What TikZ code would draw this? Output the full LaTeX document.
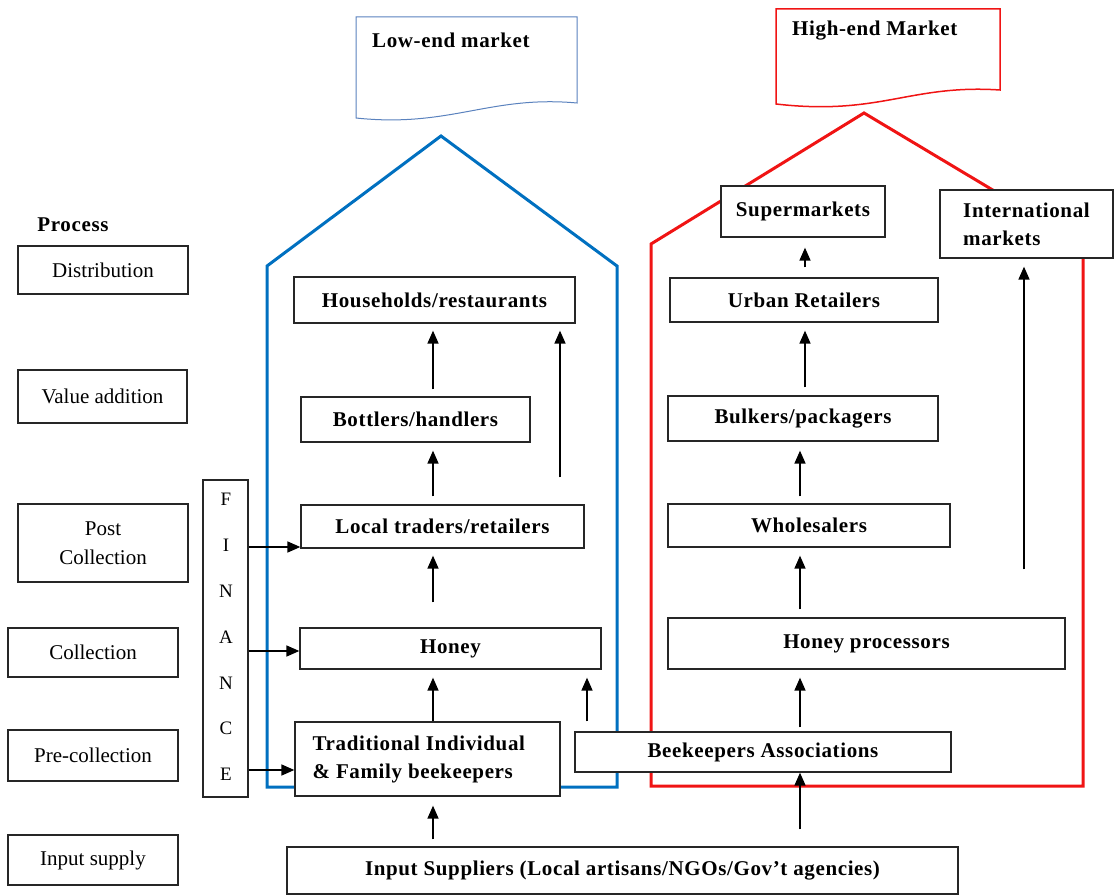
\documentclass[tikz,border=0pt]{standalone}
\usepackage{fontspec}
\setmainfont{Liberation Serif}
\newfontfamily\lsfont[LetterSpace=3]{Liberation Serif}
\usetikzlibrary{arrows.meta,calc}
\definecolor{hblue}{RGB}{0,112,192}
\definecolor{hred}{RGB}{240,20,20}
\definecolor{docblue}{RGB}{90,130,190}
\tikzset{
  box/.style={draw=black!85,line width=1.3pt,fill=white,inner sep=0pt,align=center,
    font=\fontsize{21}{28}\selectfont\lsfont\bfseries},
  pbox/.style={box,font=\fontsize{21}{29}\selectfont},
  arr/.style={-{Triangle[length=13pt,width=11pt]},line width=1.6pt},
  house/.style={line width=3pt,line join=miter},
  boldlbl/.style={font=\fontsize{21}{26}\selectfont\lsfont\bfseries,inner sep=0pt},
}
\newcommand\bx[7][box]{\node[#1,minimum width=(#5-#3)*1pt,minimum height=(#6-#4)*1pt] (#2) at ({(#3+#5)/2},{(#4+#6)/2}) {#7};}
\begin{document}
\begin{tikzpicture}[x=1pt,y=-1pt]
\useasboundingbox (0,0) rectangle (1117,896);
% houses
\draw[hblue,house] (267,787) -- (267,266) -- (441,136) -- (617,266) -- (617,787) -- cycle;
\draw[hred,house] (651,786) -- (651,244) -- (864,113) -- (1083,244) -- (1083,786) -- cycle;
% market documents
\draw[docblue,line width=1pt,fill=white] (356,17) -- (577,17) -- (577,103)
  .. controls (490,95) and (450,128) .. (356,118) -- cycle;
\node[boldlbl,anchor=west] (lowend) at (372,40) {Low-end market};
\draw[hred,line width=1.5pt,fill=white] (776,9) -- (1000,9) -- (1000,90)
  .. controls (910,84) and (880,116) .. (776,104) -- cycle;
\node[boldlbl,anchor=west] (highend) at (792,31) {High-end Market};
% process column
\node[boldlbl] (proc) at (73,225) {Process};
\bx[pbox]{dist}{18}{246}{188}{294}{Distribution}
\bx[pbox]{va}{18}{370}{187}{423}{Value addition}
\bx[pbox]{pc}{18}{504}{188}{582}{Post\\Collection}
\bx[pbox]{coll}{8}{628}{178}{677}{Collection}
\bx[pbox]{pre}{8}{730}{178}{781}{Pre-collection}
\bx[pbox]{inp}{8}{835}{178}{885}{Input supply}
% finance
\node[draw=black!85,line width=1.3pt,fill=white,minimum width=45pt,minimum height=317pt,inner sep=0pt] (fin) at (225.5,638.5) {};
\node[align=center,font=\fontsize{19}{45.8}\selectfont,inner sep=0pt] (fintxt) at (226,637) {F\\I\\N\\A\\N\\C\\E};
% low-end chain
\bx{hh}{294}{277}{575}{323}{Households/restaurants}
\bx{bott}{301}{397}{530}{442}{Bottlers/handlers}
\bx{ltr}{301}{505}{584}{548}{Local traders/retailers}
\bx{honey}{300}{628}{601}{669}{Honey}
\node[box,minimum width=265pt,minimum height=74pt] (trad) at (427.5,759) {};
\node[box,draw=none,fill=none,align=left,anchor=west] (tradtxt) at (312,759) {Traditional Individual\\\& Family beekeepers};
\bx{bee}{575}{732}{951}{772}{Beekeepers Associations}
\bx{inps}{287}{847}{958}{894}{Input Suppliers (Local artisans/NGOs/Gov’t agencies)}
% high-end chain
\bx{super}{721}{186}{885}{237}{Supermarkets}
\bx[box,align=left]{intl}{940}{190}{1113}{258}{International\\markets}
\bx{urban}{670}{278}{938}{322}{Urban Retailers}
\bx{bulk}{668}{396}{938}{441}{Bulkers/packagers}
\bx{whole}{668}{504}{950}{547}{Wholesalers}
\bx{hp}{668}{618}{1065}{669}{Honey processors}
% arrow columns
\coordinate (a433) at (433,0);
\coordinate (a560) at (560,0);
\coordinate (a587) at (587,0);
\coordinate (a805) at (805,0);
\coordinate (a800) at (800,0);
\coordinate (a1024) at (1024,0);
\coordinate (f547) at (0,547);
\coordinate (f651) at (0,651);
\coordinate (f770) at (0,770);
% low-end arrows
\draw[arr,shorten <=7pt,shorten >=7pt] (bott.north -| a433) -- (hh.south -| a433);
\draw[arr,shorten <=8pt,shorten >=8pt] (ltr.north -| a433) -- (bott.south -| a433);
\draw[arr,shorten <=25pt,shorten >=7pt] (honey.north -| a433) -- (ltr.south -| a433);
\draw[arr,shorten >=8pt] (trad.north -| a433) -- (honey.south -| a433);
\draw[arr,shorten <=7pt,shorten >=9pt] (inps.north -| a433) -- (trad.south -| a433);
\draw[arr,shorten <=27pt,shorten >=7pt] (ltr.north -| a560) -- (hh.south -| a560);
\draw[arr,shorten <=10pt,shorten >=8pt] (bee.north -| a587) -- (honey.south -| a587);
% high-end arrows
\draw[arr,shorten <=10pt,shorten >=10pt] (urban.north -| a805) -- (super.south -| a805);
\draw[arr,shorten <=8pt,shorten >=8pt] (bulk.north -| a805) -- (urban.south -| a805);
\draw[arr,shorten <=7pt,shorten >=9pt] (whole.north -| a800) -- (bulk.south -| a800);
\draw[arr,shorten <=8pt,shorten >=8pt] (hp.north -| a800) -- (whole.south -| a800);
\draw[arr,shorten <=4pt,shorten >=8pt] (bee.north -| a800) -- (hp.south -| a800);
\draw[arr,shorten <=17pt] (inps.north -| a800) -- (bee.south -| a800);
\draw[arr,shorten <=48pt,shorten >=8pt] (hp.north -| a1024) -- (intl.south -| a1024);
% finance arrows
\draw[arr] (fin.east |- f547) -- (ltr.west |- f547);
\draw[arr] (fin.east |- f651) -- (honey.west |- f651);
\draw[arr] (fin.east |- f770) -- (trad.west |- f770);
\end{tikzpicture}
\end{document}
